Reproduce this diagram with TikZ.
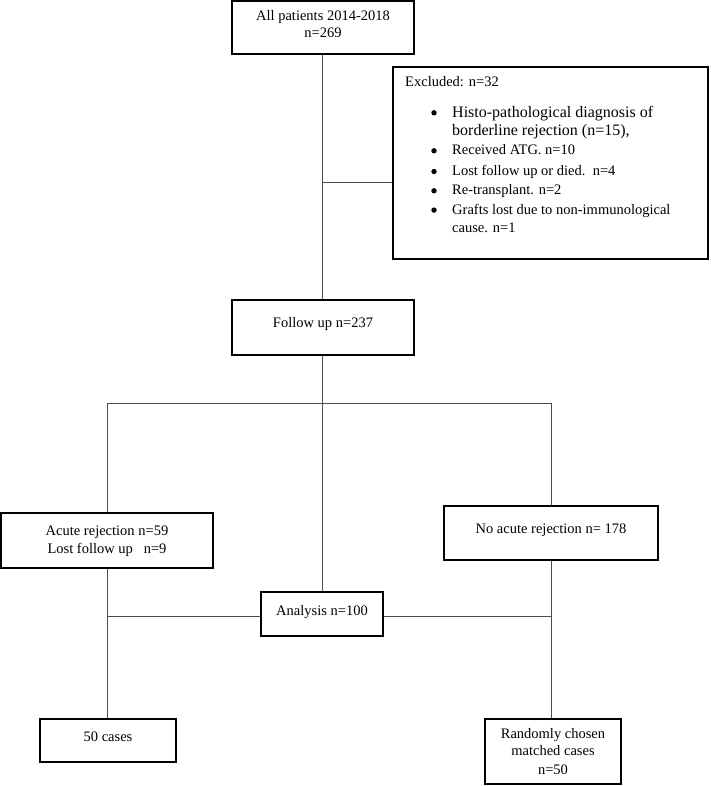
\documentclass[tikz,border=0pt]{standalone}
\usepackage{fontspec}
\setmainfont{Liberation Serif}
\begin{document}
\begin{tikzpicture}[x=1pt,y=-1pt,
  box/.style={draw=black,line width=1.2pt,inner sep=0pt,fill=none},
  conn/.style={draw=black!70,line width=0.8pt},
  txt/.style={inner sep=0pt,anchor=base,font=\fontsize{14.5}{17}\selectfont},
  ltxt/.style={inner sep=0pt,anchor=base west,font=\fontsize{14.5}{17}\selectfont},
  btxt/.style={inner sep=0pt,anchor=base west,font=\fontsize{16}{19}\selectfont},
  dot/.style={circle,fill=black,inner sep=0pt,minimum size=5.4pt},
]
\useasboundingbox (0,0) rectangle (710,786);
\fill[white] (0,0) rectangle (710,786);

% boxes
\node[box,minimum width=182pt,minimum height=53pt] (top) at (323,27.5) {};
\node[box,minimum width=315pt,minimum height=192pt] (excl) at (550.5,163) {};
\node[box,minimum width=182pt,minimum height=55pt] (follow) at (323,327.5) {};
\node[box,minimum width=212pt,minimum height=55pt] (acute) at (107,540.5) {};
\node[box,minimum width=214pt,minimum height=54pt] (noacute) at (551,533) {};
\node[box,minimum width=122pt,minimum height=44pt] (analysis) at (322,614) {};
\node[box,minimum width=136pt,minimum height=43pt] (cases) at (108,740.5) {};
\node[box,minimum width=136pt,minimum height=65pt] (random) at (553,751.5) {};

% texts
\node[txt] (t1) at (323,21) {All patients 2014-2018};
\node[txt] (t2) at (323,38) {n=269};
\node[ltxt] (e0) at (405,87) {Excluded: n=32};
\node[dot] (b1) at (434,112.8) {};
\node[btxt] (e1) at (452,117.3) {Histo-pathological diagnosis of};
\node[btxt] (e1b) at (452,135.7) {borderline rejection (n=15),};
\node[dot] (b2) at (434,150.8) {};
\node[ltxt] (e2) at (452,155) {Received ATG. n=10};
\node[dot] (b3) at (434,171.5) {};
\node[ltxt] (e3) at (452,175.7) {Lost follow up or died.\ \ n=4};
\node[dot] (b4) at (434,190.8) {};
\node[ltxt] (e4) at (452,195) {Re-transplant. n=2};
\node[dot] (b5) at (434,210.1) {};
\node[ltxt] (e5) at (452,214.3) {Grafts lost due to non-immunological};
\node[ltxt] (e5b) at (452,232.7) {cause. n=1};
\node[txt] (f1) at (323,327) {Follow up n=237};
\node[txt] (a1) at (107,535) {Acute rejection n=59};
\node[txt] (a2) at (107,553) {Lost follow up\ \ \ n=9};
\node[txt] (n1) at (551,533) {No acute rejection n= 178};
\node[txt] (an1) at (322,615) {Analysis n=100};
\node[txt] (c1) at (108,741) {50 cases};
\node[txt] (r1) at (553,738.3) {Randomly chosen};
\node[txt] (r2) at (553,755.7) {matched cases};
\node[txt] (r3) at (553,774) {n=50};

% junction coordinates
\coordinate (jx) at (322,182);
\coordinate (jf) at (322,403);
\coordinate (jl) at (107,403);
\coordinate (jr) at (551,403);
\coordinate (ja) at (107,616);
\coordinate (jn) at (551,616);

% connectors
\draw[conn] (top.south -| jx) -- (follow.north -| jx);
\draw[conn] (jx) -- (jx -| excl.west);
\draw[conn] (follow.south -| jf) -- (jf);
\draw[conn] (jl) -- (jr);
\draw[conn] (jl) -- (acute.north -| jl);
\draw[conn] (jf) -- (analysis.north -| jf);
\draw[conn] (jr) -- (noacute.north -| jr);
\draw[conn] (acute.south -| ja) -- (cases.north -| ja);
\draw[conn] (ja) -- (ja -| analysis.west);
\draw[conn] (analysis.east |- jn) -- (jn);
\draw[conn] (noacute.south -| jn) -- (random.north -| jn);
\end{tikzpicture}
\end{document}
